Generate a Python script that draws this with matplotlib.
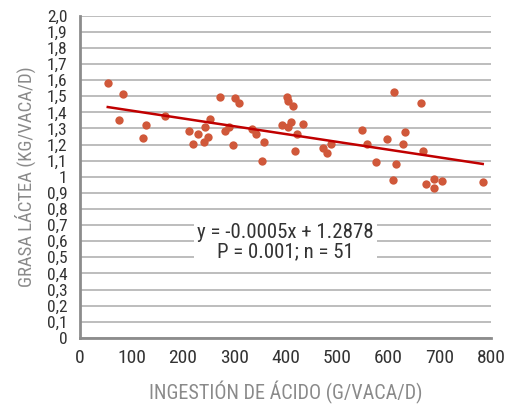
import matplotlib
matplotlib.use("Agg")
import matplotlib.pyplot as plt
import numpy as np
from matplotlib import font_manager

# acid intake (g/cow/d) vs milk fat (kg/cow/d)
acid = [54, 84, 75, 123, 129, 165, 212, 220, 230, 243, 241, 250, 253, 272, 283,
        291, 297, 302, 310, 335, 342, 359, 355, 394, 402, 405, 414, 405, 410, 422,
        419, 434, 473, 480, 488, 548, 559, 576, 597, 612, 632, 629, 615, 609, 664,
        667, 674, 689, 689, 704, 784]
fat = [1.58, 1.515, 1.354, 1.24, 1.319, 1.375, 1.282, 1.203, 1.265, 1.31, 1.215,
       1.247, 1.36, 1.497, 1.284, 1.31, 1.195, 1.49, 1.46, 1.294, 1.263, 1.217,
       1.096, 1.319, 1.497, 1.47, 1.441, 1.309, 1.34, 1.265, 1.16, 1.327, 1.178,
       1.145, 1.201, 1.29, 1.203, 1.093, 1.236, 1.524, 1.28, 1.201, 1.077, 0.981,
       1.456, 1.16, 0.957, 0.984, 0.928, 0.973, 0.965]

x_ticks = [0, 100, 200, 300, 400, 500, 600, 700, 800]
y_ticks = [0.0, 0.1, 0.2, 0.3, 0.4, 0.5, 0.6, 0.7, 0.8, 0.9, 1.0,
           1.1, 1.2, 1.3, 1.4, 1.5, 1.6, 1.7, 1.8, 1.9, 2.0]
y_labels = ["0", "0,1", "0,2", "0,3", "0,4", "0,5", "0,6", "0,7", "0,8", "0,9", "1",
            "1,1", "1,2", "1,3", "1,4", "1,5", "1,6", "1,7", "1,8", "1,9", "2,0"]

eq_text = "y = -0.0005x + 1.2878\nP = 0.001; n = 51"

names = {f.name for f in font_manager.fontManager.ttflist}
family = "DejaVu Sans"
for cand in ["Liberation Sans Narrow", "Roboto Condensed", "Open Sans Condensed", "Roboto"]:
    if cand in names:
        family = cand
        break
plt.rcParams["font.family"] = family

fig = plt.figure(figsize=(5.13, 4.13), dpi=100)
ax = fig.add_axes([0.156, 0.182, 0.801, 0.78])

ax.scatter(acid, fat, s=36, color="#d0583a", zorder=3, linewidths=0)

k, b = np.polyfit(acid, fat, 1)
xs = np.array([min(acid), max(acid)])
ax.plot(xs, k * xs + b, color="#c00000", lw=1.8, zorder=4)

ax.set_xlim(0, 800)
ax.set_ylim(0, 2.0)
ax.set_xticks(x_ticks)
ax.set_yticks(y_ticks)
ax.set_yticklabels(y_labels)
ax.yaxis.grid(True, color="#bdbdbd", lw=1.4)
ax.set_axisbelow(True)

for s in ["top", "right"]:
    ax.spines[s].set_visible(False)
ax.spines["left"].set_color("#8c8c8c")
ax.spines["left"].set_linewidth(2)
ax.spines["bottom"].set_color("#8c8c8c")
ax.spines["bottom"].set_linewidth(2)
ax.tick_params(axis="x", length=0, pad=8, labelsize=14, labelcolor="#333333")
ax.tick_params(axis="y", length=0, pad=9, labelsize=12.5, labelcolor="#333333")

ax.set_xlabel("INGESTIÓN DE ÁCIDO (G/VACA/D)", fontsize=14.5, color="#8a8a8a", labelpad=10)
ax.set_ylabel("GRASA LÁCTEA (KG/VACA/D)", fontsize=13.5, color="#8a8a8a", labelpad=8)

ax.text(400, 0.595, eq_text, ha="center", va="center", fontsize=15, color="#333333",
        linespacing=1.05, zorder=5,
        bbox=dict(facecolor="white", edgecolor="none", pad=2))

fig.savefig("out.png", dpi=100)
